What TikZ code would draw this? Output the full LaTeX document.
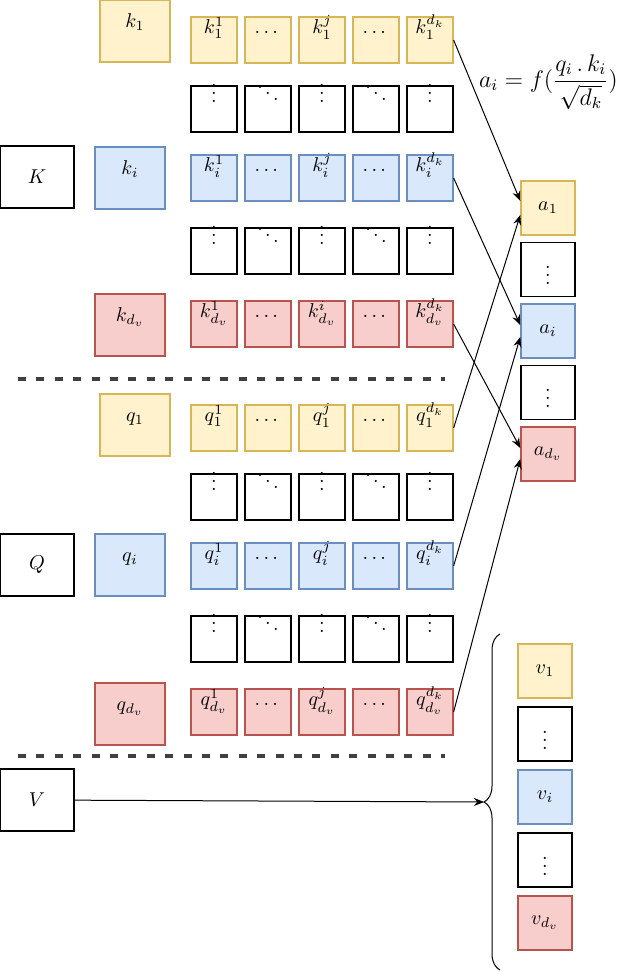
\documentclass[tikz,border=0pt]{standalone}
\usepackage{amsmath}
\usepackage{amssymb}
\usetikzlibrary{arrows, arrows.meta, positioning, decorations.pathreplacing}

\definecolor{yfill}{HTML}{FFF2CC}
\definecolor{yline}{HTML}{D6B656}
\definecolor{bfill}{HTML}{DAE8FC}
\definecolor{bline}{HTML}{6C8EBF}
\definecolor{rfill}{HTML}{F8CECC}
\definecolor{rline}{HTML}{B85450}

\begin{document}
\begin{tikzpicture}[x=0.5pt, y=-0.5pt, node distance=27pt]

        \tikzstyle{cell} = [rectangle, minimum width=23pt, minimum height=23pt, inner sep=0pt, text height=1.6ex, text depth=3ex, draw=black, line width=0.75pt]
        \tikzstyle{ycell} = [cell, fill=yfill, draw=yline, line width=0.6pt]
        \tikzstyle{bcell} = [cell, fill=bfill, draw=bline, line width=0.6pt]
        \tikzstyle{rcell} = [cell, fill=rfill, draw=rline, line width=0.6pt]
        \tikzstyle{big} = [rectangle, minimum width=35pt, minimum height=31pt, inner sep=0pt, text height=1.6ex, text depth=2.3ex, line width=0.7pt]
        \tikzstyle{ybig} = [big, fill=yfill, draw=yline]
        \tikzstyle{bbig} = [big, fill=bfill, draw=bline]
        \tikzstyle{rbig} = [big, fill=rfill, draw=rline]
        \tikzstyle{inbox} = [rectangle, minimum width=37pt, minimum height=31pt, draw=black, line width=0.8pt]
        \tikzstyle{outbox} = [rectangle, minimum width=27pt, minimum height=27pt, inner sep=0pt, draw=black, line width=0.75pt]
        \tikzstyle{arrow} = [-{Stealth[length=5pt, width=4pt]}, line width=0.5pt]
        \tikzstyle{sep} = [line width=1.6pt, dash pattern=on 4pt off 5.2pt, draw=black!75]
        \tikzstyle{brace} = [decorate, decoration={brace, amplitude=8pt}, line width=0.5pt]

        \useasboundingbox (0,0) rectangle (616,972);

        % keys
        \node (K) [inbox] at (37,177) {$K$};
        \node (key1) [ybig] at (135,31) {$k_1$};
        \node (keyi) [bbig] at (130,178) {$k_i$};
        \node (keydv) [rbig] at (130,325) {$k_{d_v}$};

        \node (k1-1) [ycell] at (214,40) {$k_1^1$};
        \node (k1-2) [ycell, right of=k1-1] {$\dots$};
        \node (k1-3) [ycell, right of=k1-2] {$k_1^j$};
        \node (k1-4) [ycell, right of=k1-3] {$\dots$};
        \node (k1-5) [ycell, right of=k1-4] {$k_1^{d_k}$};

        \node (kv1-1) [cell] at (214,109) {$\vdots$};
        \node (kv1-2) [cell, right of=kv1-1] {$\ddots$};
        \node (kv1-3) [cell, right of=kv1-2] {$\vdots$};
        \node (kv1-4) [cell, right of=kv1-3] {$\ddots$};
        \node (kv1-5) [cell, right of=kv1-4] {$\vdots$};

        \node (ki-1) [bcell] at (214,178) {$k_i^1$};
        \node (ki-2) [bcell, right of=ki-1] {$\dots$};
        \node (ki-3) [bcell, right of=ki-2] {$k_i^j$};
        \node (ki-4) [bcell, right of=ki-3] {$\dots$};
        \node (ki-5) [bcell, right of=ki-4] {$k_i^{d_k}$};

        \node (kv2-1) [cell] at (214,251) {$\vdots$};
        \node (kv2-2) [cell, right of=kv2-1] {$\ddots$};
        \node (kv2-3) [cell, right of=kv2-2] {$\vdots$};
        \node (kv2-4) [cell, right of=kv2-3] {$\ddots$};
        \node (kv2-5) [cell, right of=kv2-4] {$\vdots$};

        \node (kdv-1) [rcell] at (214,324) {$k_{d_v}^1$};
        \node (kdv-2) [rcell, right of=kdv-1] {$\dots$};
        \node (kdv-3) [rcell, right of=kdv-2] {$k_{d_v}^i$};
        \node (kdv-4) [rcell, right of=kdv-3] {$\dots$};
        \node (kdv-5) [rcell, right of=kdv-4] {$k_{d_v}^{d_k}$};

        \draw [sep] (18,379) -- (445,379);

        % queries
        \node (Q) [inbox] at (37,565) {$Q$};
        \node (query1) [ybig] at (135,425) {$q_1$};
        \node (queryi) [bbig] at (130,565) {$q_i$};
        \node (querydv) [rbig] at (130,714) {$q_{d_v}$};

        \node (q1-1) [ycell] at (214,428) {$q_1^1$};
        \node (q1-2) [ycell, right of=q1-1] {$\dots$};
        \node (q1-3) [ycell, right of=q1-2] {$q_1^j$};
        \node (q1-4) [ycell, right of=q1-3] {$\dots$};
        \node (q1-5) [ycell, right of=q1-4] {$q_1^{d_k}$};

        \node (qv1-1) [cell] at (214,497) {$\vdots$};
        \node (qv1-2) [cell, right of=qv1-1] {$\ddots$};
        \node (qv1-3) [cell, right of=qv1-2] {$\vdots$};
        \node (qv1-4) [cell, right of=qv1-3] {$\ddots$};
        \node (qv1-5) [cell, right of=qv1-4] {$\vdots$};

        \node (qi-1) [bcell] at (214,566) {$q_i^1$};
        \node (qi-2) [bcell, right of=qi-1] {$\dots$};
        \node (qi-3) [bcell, right of=qi-2] {$q_i^j$};
        \node (qi-4) [bcell, right of=qi-3] {$\dots$};
        \node (qi-5) [bcell, right of=qi-4] {$q_i^{d_k}$};

        \node (qv2-1) [cell] at (214,639) {$\vdots$};
        \node (qv2-2) [cell, right of=qv2-1] {$\ddots$};
        \node (qv2-3) [cell, right of=qv2-2] {$\vdots$};
        \node (qv2-4) [cell, right of=qv2-3] {$\ddots$};
        \node (qv2-5) [cell, right of=qv2-4] {$\vdots$};

        \node (qdv-1) [rcell] at (214,712) {$q_{d_v}^1$};
        \node (qdv-2) [rcell, right of=qdv-1] {$\dots$};
        \node (qdv-3) [rcell, right of=qdv-2] {$q_{d_v}^j$};
        \node (qdv-4) [rcell, right of=qdv-3] {$\dots$};
        \node (qdv-5) [rcell, right of=qdv-4] {$q_{d_v}^{d_k}$};

        \draw [sep] (18,756) -- (445,756);

        % values
        \node (V) [inbox] at (37,800) {$V$};

        % attention scores
        \node (score) [anchor=west, font=\large] at (472,82) {$a_i = f(\dfrac{q_i\,.\,k_i}{\sqrt{d_k}})$};
        \node (a1) [outbox, fill=yfill, draw=yline] at (548,208) {$a_1$};
        \node (av1) [outbox, below of=a1, node distance=30.75pt] {$\vdots$};
        \node (ai) [outbox, fill=bfill, draw=bline, below of=av1, node distance=30.75pt] {$a_i$};
        \node (av2) [outbox, below of=ai, node distance=30.75pt] {$\vdots$};
        \node (adv) [outbox, fill=rfill, draw=rline, below of=av2, node distance=30.75pt] {$a_{d_v}$};

        \node (v1) [outbox, fill=yfill, draw=yline] at (545,671) {$v_1$};
        \node (vv1) [outbox, below of=v1, node distance=31.5pt] {$\vdots$};
        \node (vi) [outbox, fill=bfill, draw=bline, below of=vv1, node distance=31.5pt] {$v_i$};
        \node (vv2) [outbox, below of=vi, node distance=31.5pt] {$\vdots$};
        \node (vdv) [outbox, fill=rfill, draw=rline, below of=vv2, node distance=31.5pt] {$v_{d_v}$};

        \draw [brace] (500,970) -- (500,634);
        \coordinate (vtip) at (484,802);

        \draw [arrow] (k1-5.east) -- ([yshift=3.5pt]a1.west);
        \draw [arrow] (q1-5.east) -- ([yshift=-3.5pt]a1.west);
        \draw [arrow] (ki-5.east) -- ([yshift=3pt]ai.west);
        \draw [arrow] (qi-5.east) -- ([yshift=-3pt]ai.west);
        \draw [arrow] (kdv-5.east) -- ([yshift=3pt]adv.west);
        \draw [arrow] (qdv-5.east) -- ([yshift=-2.5pt]adv.west);
        \draw [arrow] (V) -- (vtip);
    \end{tikzpicture}
\end{document}
